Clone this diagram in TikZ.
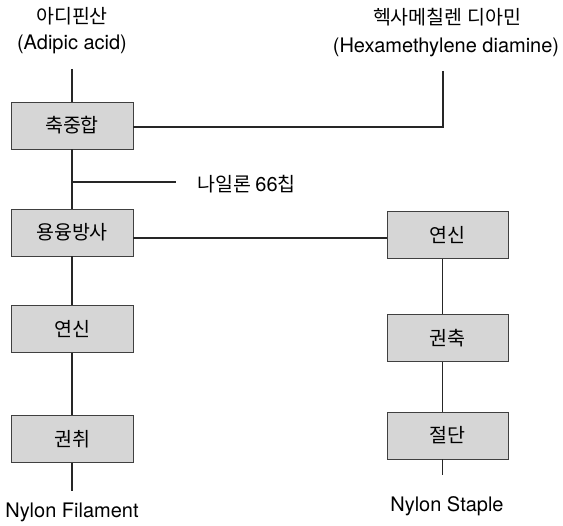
\documentclass[tikz,border=0pt]{standalone}
\usepackage{fontspec}
\setmainfont{TeX Gyre Heros}
\newfontfamily\kr{Noto Sans CJK KR}
\begin{document}
\begin{tikzpicture}[x=1pt,y=-1pt,
  procbox/.style={draw=black!75,line width=0.9pt,fill=black!16,minimum width=122pt,minimum height=47pt,inner sep=0pt,font=\kr\fontsize{19.5}{21}\selectfont},
  lbl/.style={inner sep=0pt,font=\fontsize{20}{22}\selectfont},
  klbl/.style={inner sep=0pt,font=\kr\fontsize{19.5}{21}\selectfont},
  conn/.style={line width=1.5pt,black!85}]
\useasboundingbox (0,0) rectangle (563,526);
% labels
\node[klbl] (adk) at (72,16) {아디핀산};
\node[lbl] (ade) at (72,44) {(Adipic acid)};
\node[klbl] (hxk) at (447,17) {헥사메칠렌 디아민};
\node[lbl] (hxe) at (446,47) {(Hexamethylene diamine)};
\node[klbl,anchor=west] (chip) at (197,184) {나일론 {\fontspec{TeX Gyre Heros}\fontsize{20}{22}\selectfont 66}칩};
\node[lbl] (nf) at (72,512) {Nylon Filament};
\node[lbl] (ns) at (447,506) {Nylon Staple};
% boxes
\node[procbox] (b1) at (72,125.5) {축중합};
\node[procbox] (b2) at (72,232.5) {용융방사};
\node[procbox] (b3) at (72,329) {연신};
\node[procbox] (b4) at (72,439) {권취};
\node[procbox,minimum width=121pt] (r1) at (447.5,235) {연신};
\node[procbox,minimum width=121pt] (r2) at (447.5,338) {권축};
\node[procbox,minimum width=121pt] (r3) at (447.5,435.5) {절단};
% coordinates
\coordinate (ltop) at (72,69);
\coordinate (rtop) at (443,71);
\coordinate (rcorner) at (443,127);
\coordinate (brs) at (72,182);
\coordinate (bre) at (176,182);
\coordinate (lend) at (72,491);
\coordinate (rend) at (442.5,475);
% connectors
\draw[conn] (ltop) -- (b1.north);
\draw[conn] (rtop) -- (rcorner) -- (b1.east |- rcorner);
\draw[conn] (b1.south) -- (b2.north);
\draw[conn] (brs) -- (bre);
\draw[conn] (b2.east |- 0,238) -- (r1.west |- 0,238);
\draw[conn] (b2.south) -- (b3.north);
\draw[conn] (b3.south) -- (b4.north);
\draw[conn] (b4.south) -- (lend);
\draw[conn] (r1.south -| rend) -- (r2.north -| rend);
\draw[conn] (r2.south -| rend) -- (r3.north -| rend);
\draw[conn] (r3.south -| rend) -- (rend);
\end{tikzpicture}
\end{document}
